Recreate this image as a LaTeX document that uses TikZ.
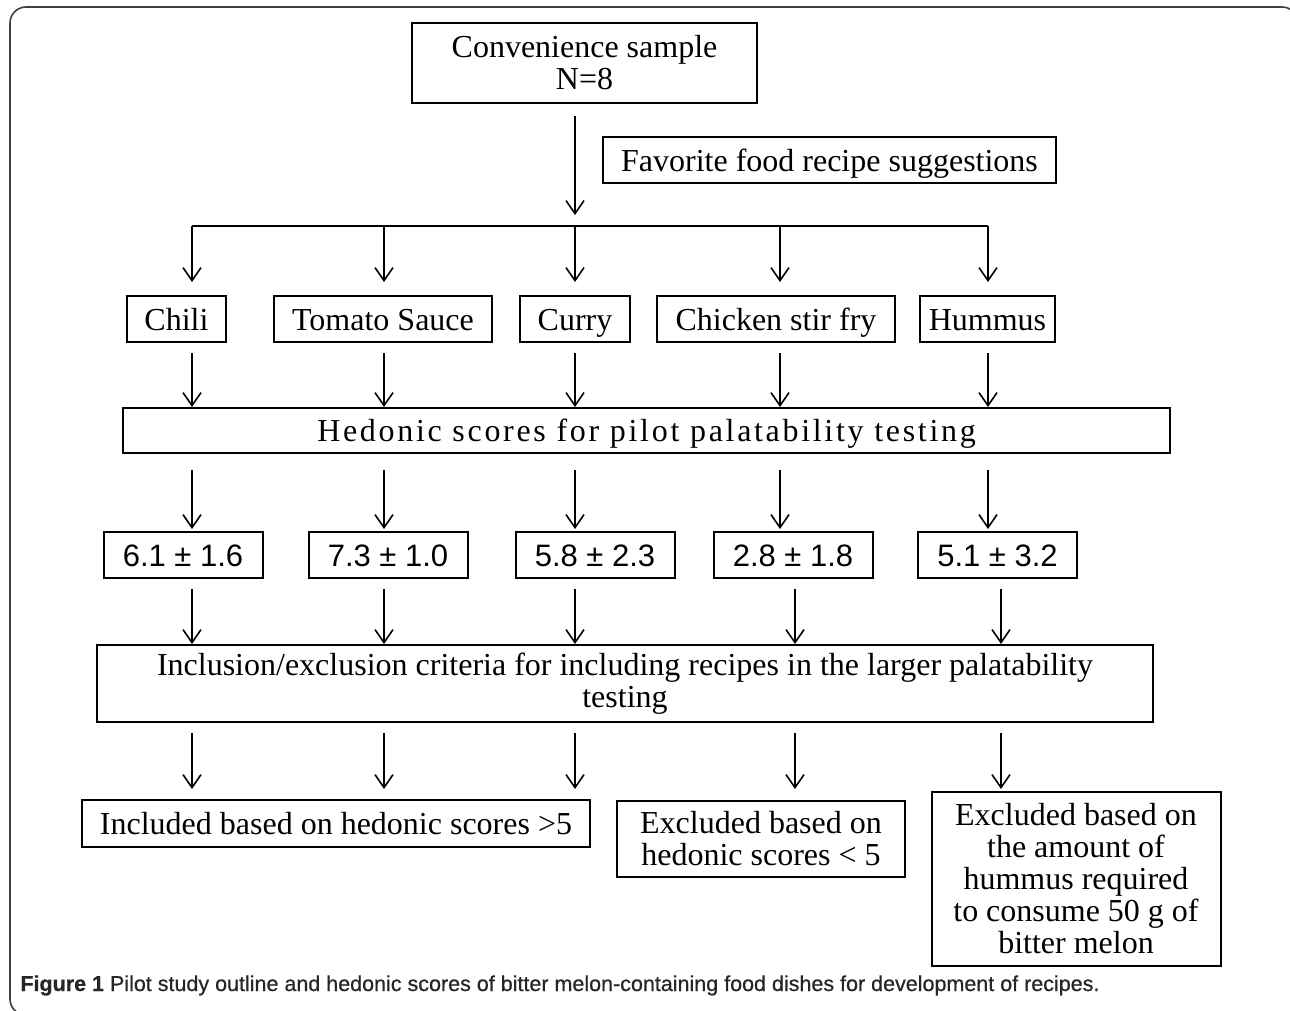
\documentclass[tikz,border=0pt]{standalone}
\usepackage{fontspec}
\setmainfont{Liberation Serif}
\newfontfamily\scorefont{Liberation Sans}
\newfontfamily\capfont{Liberation Sans}[FakeBold=0.6]
\usetikzlibrary{arrows.meta}

\tikzset{
	box/.style={draw, line width=1pt, inner sep=0pt, align=center,
		font=\fontsize{16}{16}\selectfont},
	onebox/.style={box, text height=11pt, text depth=0pt},
	scorebox/.style={draw, line width=1pt, inner sep=0pt,
		minimum width=79.5pt, minimum height=23pt,
		text height=11.1pt, text depth=0pt,
		font=\scorefont\fontsize{15.5}{16}\selectfont},
	arr/.style={-{Straight Barb[length=6.5pt,width=9pt]}, line width=0.8pt},
}

\begin{document}
\begin{tikzpicture}[x=0.5pt, y=-0.5pt]
\useasboundingbox (0,0) rectangle (1290,1011);
\draw[line width=0.8pt, rounded corners=8pt, black!75] (10,7) rectangle (1298,1015);

% arrow columns
\pgfmathsetmacro{\colA}{192}
\pgfmathsetmacro{\colB}{384}
\pgfmathsetmacro{\colC}{575}
\pgfmathsetmacro{\colD}{780}
\pgfmathsetmacro{\colE}{988}
\pgfmathsetmacro{\colDlo}{795}
\pgfmathsetmacro{\colElo}{1001}
\coordinate (cA) at (\colA,0);
\coordinate (cB) at (\colB,0);
\coordinate (cC) at (\colC,0);
\coordinate (cD) at (\colD,0);
\coordinate (cE) at (\colE,0);
\coordinate (dA) at (\colA,0);
\coordinate (dB) at (\colB,0);
\coordinate (dC) at (\colC,0);
\coordinate (dD) at (\colDlo,0);
\coordinate (dE) at (\colElo,0);

\node[box, minimum width=172.5pt, minimum height=40pt] (conv) at (584.5,63)
	{Convenience sample\\N=8};
\node[onebox, minimum width=226.5pt, minimum height=23pt] (fav) at (829.5,160)
	{Favorite food recipe suggestions};

\coordinate (splitL) at (\colA,226);
\coordinate (splitR) at (\colE,226);
\draw[arr, shorten <=6pt, shorten >=5.5pt] (conv.south -| cC) -- (splitL -| cC);
\draw[line width=0.8pt] (splitL) -- (splitR);

% recipes
\node[onebox, minimum width=49.5pt, minimum height=23pt] (chili) at (176.5,319) {Chili};
\node[onebox, minimum width=109pt, minimum height=23pt] (tomato) at (383,319) {Tomato Sauce};
\node[onebox, minimum width=55pt, minimum height=23pt] (curry) at (575,319) {Curry};
\node[onebox, minimum width=119pt, minimum height=23pt] (chicken) at (776,319) {Chicken stir fry};
\node[onebox, minimum width=67.5pt, minimum height=23pt] (hummus) at (987.5,319) {Hummus};

\node[onebox, minimum width=523.5pt, minimum height=22.5pt] (hed) at (646.5,430.5)
	{\addfontfeature{LetterSpace=8.4}Hedonic scores for pilot palatability testing};

\node[scorebox] (sA) at (183,555) {6.1 ± 1.6};
\node[scorebox] (sB) at (388,555) {7.3 ± 1.0};
\node[scorebox] (sC) at (595,555) {5.8 ± 2.3};
\node[scorebox] (sD) at (793,555) {2.8 ± 1.8};
\node[scorebox] (sE) at (997.5,555) {5.1 ± 3.2};

\node[box, minimum width=528pt, minimum height=38.5pt] (incl) at (625,683.5)
	{Inclusion/exclusion criteria for including recipes in the larger palatability\\testing};

\node[onebox, minimum width=254pt, minimum height=23.5pt] (inc) at (336,823.5)
	{Included based on hedonic scores {>}5};
\node[box, minimum width=144pt, minimum height=38pt] (exlow) at (761,839)
	{Excluded based on\\hedonic scores {<} 5};
\node[box, minimum width=144.5pt, minimum height=87pt] (exhum) at (1076,879)
	{Excluded based on\\the amount of\\hummus required\\to consume 50 g of\\bitter melon};

\foreach \n/\c in {chili/cA, tomato/cB, curry/cC, chicken/cD, hummus/cE}
	\draw[arr, shorten >=6.5pt] (splitL -| \c) -- (\n.north -| \c);
\foreach \n/\c in {chili/cA, tomato/cB, curry/cC, chicken/cD, hummus/cE}
	\draw[arr, shorten <=5pt] (\n.south -| \c) -- (hed.north -| \c);
\foreach \n/\c in {sA/cA, sB/cB, sC/cC, sD/cD, sE/cE}
	\draw[arr, shorten <=8pt, shorten >=1pt] (hed.south -| \c) -- (\n.north -| \c);
\foreach \n/\c in {sA/dA, sB/dB, sC/dC, sD/dD, sE/dE}
	\draw[arr, shorten <=5pt] (\n.south -| \c) -- (incl.north -| \c);
\foreach \n/\c/\s in {inc/dA/5pt, inc/dB/5pt, inc/dC/5pt, exlow/dD/5.5pt, exhum/dE/1pt}
	\draw[arr, shorten <=5pt, shorten >=\s] (incl.south -| \c) -- (\n.north -| \c);

\node[anchor=base west, inner sep=0pt, text=black!85,
	font=\capfont\fontsize{10.75}{12}\selectfont] (caption) at (20,991)
	{\textbf{Figure 1} Pilot study outline and hedonic scores of bitter melon-containing food dishes for development of recipes.};
\end{tikzpicture}
\end{document}
